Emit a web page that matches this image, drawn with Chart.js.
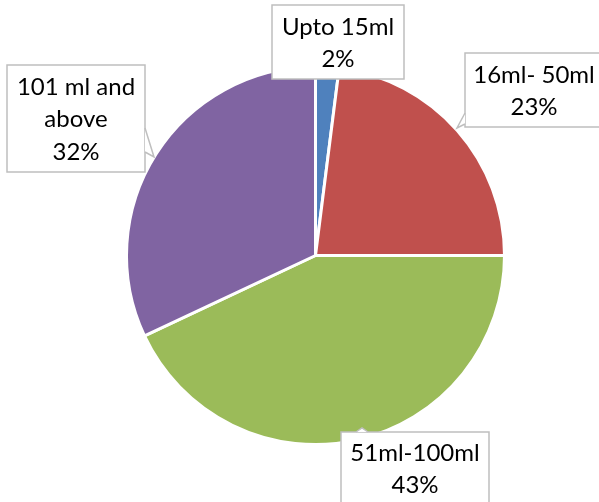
<!DOCTYPE html>
<html lang="en">
<head>
    <meta charset="UTF-8">
    <title>Pie chart</title>
    <style>
        body { margin: 0; background: #fff; }
        #wrap { position: relative; width: 599px; height: 502px; }
    </style>
    <script src="https://cdn.jsdelivr.net/npm/chart.js"></script>
</head>
<body>
    <div id="wrap"><canvas id="pieChart" width="599" height="502"></canvas></div>

    <script>
        // Data
        const categories = ['Upto 15ml', '16ml- 50ml', '51ml-100ml', '101 ml and above'];
        const shares = [2, 23, 43, 32];
        const colors = ['#4F81BD', '#C0504D', '#9BBB59', '#8064A2'];

        // callout boxes: box rect, text lines (category wrapped), tail triangle
        const callouts = [
            { box: [272, 5, 132, 74], lines: ['Upto 15ml'], cx: 338, y0: 27, tail: null },
            { box: [465, 53, 140, 74], lines: ['16ml- 50ml'], cx: 534, y0: 75, tail: [[465, 113], [457, 128], [465, 124]] },
            { box: [341, 432, 148, 80], lines: ['51ml-100ml'], cx: 415, y0: 453, tail: [[356, 432], [362, 428], [368, 432]] },
            { box: [7, 65, 138, 107], lines: ['101 ml and', 'above'], cx: 76, y0: 87, tail: [[145, 128], [154, 157], [145, 152]] }
        ];

        const calloutPlugin = {
            id: 'callouts',
            afterDraw(chart) {
                const ctx = chart.ctx;
                ctx.save();
                callouts.forEach((c, i) => {
                    const [x, y, w, h] = c.box;
                    ctx.fillStyle = '#fff';
                    ctx.strokeStyle = '#BFBFBF';
                    ctx.lineWidth = 1.5;
                    ctx.beginPath();
                    ctx.rect(x, y, w, h);
                    ctx.fill();
                    ctx.stroke();
                    if (c.tail) {
                        ctx.beginPath();
                        ctx.moveTo(c.tail[0][0], c.tail[0][1]);
                        ctx.lineTo(c.tail[1][0], c.tail[1][1]);
                        ctx.lineTo(c.tail[2][0], c.tail[2][1]);
                        ctx.closePath();
                        ctx.fill();
                        ctx.beginPath();
                        ctx.moveTo(c.tail[0][0], c.tail[0][1]);
                        ctx.lineTo(c.tail[1][0], c.tail[1][1]);
                        ctx.lineTo(c.tail[2][0], c.tail[2][1]);
                        ctx.stroke();
                    }
                    ctx.fillStyle = '#000';
                    ctx.font = '24px Lato';
                    ctx.textAlign = 'center';
                    ctx.textBaseline = 'middle';
                    const lines = c.lines.concat([shares[i] + '%']);
                    lines.forEach((t, k) => {
                        ctx.fillText(t, c.cx, c.y0 + k * 32.5);
                    });
                });
                ctx.restore();
            }
        };

        const ctx = document.getElementById('pieChart').getContext('2d');
        new Chart(ctx, {
            type: 'pie',
            data: {
                labels: categories,
                datasets: [{
                    data: shares,
                    backgroundColor: colors,
                    borderColor: '#fff',
                    borderWidth: 3
                }]
            },
            options: {
                responsive: false,
                animation: false,
                layout: { padding: { left: 124, right: 92, top: 65, bottom: 56 } },
                plugins: {
                    legend: { display: false },
                    tooltip: { enabled: false }
                }
            },
            plugins: [calloutPlugin]
        });
    </script>
</body>
</html>
